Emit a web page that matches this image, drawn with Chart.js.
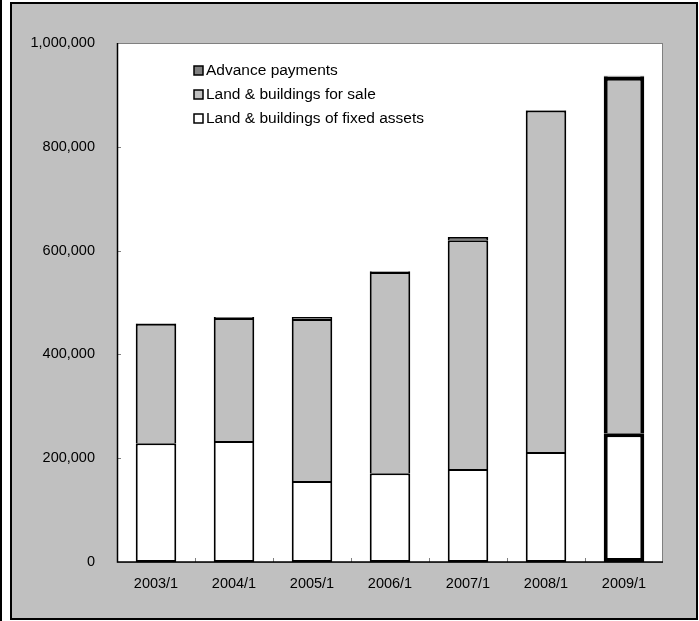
<!DOCTYPE html>
<html>
<head>
<meta charset="utf-8">
<title>Real estate</title>
<script src="https://cdn.jsdelivr.net/npm/chart.js@4"></script>
<style>
  body { margin: 0; background: #ffffff; }
  #wrap { width: 699px; height: 621px; position: relative; }
</style>
</head>
<body>
<div id="wrap"><canvas id="myChart" width="699" height="621"></canvas></div>
<script>
'use strict';

// data
let years = ['2003/1', '2004/1', '2005/1', '2006/1', '2007/1', '2008/1', '2009/1'];
let fixedAssets = [229000, 233000, 156000, 171000, 179000, 212000, 248000];
let forSale = [230000, 237000, 312000, 388000, 441000, 658000, 687000];
let advancePayments = [1000, 2000, 4000, 1000, 6000, 1000, 2000];
let yTicks = [0, 200000, 400000, 600000, 800000, 1000000];

let fontName = '"Liberation Sans", Arial, sans-serif';

// last bar is drawn with a heavy outline
let borderWidths = [2, 2, 2, 2, 2, 2, 4];

// gray frame round the whole chart
let framePlugin = {
  id: 'frame',
  beforeDraw: function (chart) {
    let ctx = chart.ctx;
    ctx.save();
    ctx.fillStyle = '#000000';
    ctx.fillRect(0, 0, 2, 621);
    ctx.fillStyle = '#c0c0c0';
    ctx.fillRect(11, 3, 686, 616);
    ctx.strokeStyle = '#000000';
    ctx.lineWidth = 2;
    ctx.strokeRect(11, 3, 686, 616);
    ctx.restore();
  },
  beforeDatasetsDraw: function (chart) {
    let ctx = chart.ctx;
    let a = chart.chartArea;
    ctx.save();
    ctx.fillStyle = '#ffffff';
    ctx.fillRect(a.left, a.top, a.right - a.left, a.bottom - a.top);
    ctx.strokeStyle = '#808080';
    ctx.lineWidth = 1;
    ctx.strokeRect(a.left + 0.5, a.top + 0.5, a.right - a.left - 1, a.bottom - a.top);
    // small inward tick marks
    let y = chart.scales.y;
    for (let i = 0; i < yTicks.length; i++) {
      let py = Math.round(y.getPixelForValue(yTicks[i])) + 0.5;
      ctx.beginPath();
      ctx.moveTo(a.left, py);
      ctx.lineTo(a.left + 4, py);
      ctx.stroke();
    }
    let x = chart.scales.x;
    let step = (a.right - a.left) / years.length;
    for (let i = 1; i < years.length; i++) {
      let px = Math.round(x.getPixelForValue(i) - step / 2) + 0.5;
      ctx.beginPath();
      ctx.moveTo(px, a.bottom);
      ctx.lineTo(px, a.bottom - 4);
      ctx.stroke();
    }
    // black axis lines
    ctx.strokeStyle = '#000000';
    ctx.lineWidth = 1.5;
    ctx.beginPath();
    ctx.moveTo(a.left + 0.5, a.top);
    ctx.lineTo(a.left + 0.5, a.bottom);
    ctx.lineTo(a.right, a.bottom);
    ctx.stroke();
    ctx.restore();
  },
  afterDraw: function (chart) {
    // legend inside the plot, top dataset listed first
    let ctx = chart.ctx;
    let sets = chart.data.datasets;
    ctx.save();
    ctx.font = '15.5px ' + fontName;
    ctx.textBaseline = 'middle';
    let rowY = 71;
    for (let i = sets.length - 1; i >= 0; i--) {
      ctx.fillStyle = sets[i].backgroundColor;
      ctx.fillRect(194, rowY - 5, 9, 9);
      ctx.strokeStyle = '#000000';
      ctx.lineWidth = 1.5;
      ctx.strokeRect(194, rowY - 5, 9, 9);
      ctx.fillStyle = '#000000';
      ctx.fillText(sets[i].label, 206, rowY);
      rowY += 24;
    }
    ctx.restore();
  }
};

let chartConfig = {
  type: 'bar',
  data: {
    labels: years,
    datasets: [{
      label: 'Land & buildings of fixed assets',
      data: fixedAssets,
      backgroundColor: '#ffffff',
      borderColor: '#000000',
      borderWidth: borderWidths,
      borderSkipped: false
    },
    {
      label: 'Land & buildings for sale',
      data: forSale,
      backgroundColor: '#c0c0c0',
      borderColor: '#000000',
      borderWidth: borderWidths,
      borderSkipped: 'start'
    },
    {
      label: 'Advance payments',
      data: advancePayments,
      backgroundColor: '#808080',
      borderColor: '#000000',
      borderWidth: borderWidths,
      borderSkipped: 'start'
    }]
  },
  options: {
    responsive: false,
    animation: false,
    layout: {
      padding: { left: 0, top: 43, right: 36, bottom: 0 }
    },
    datasets: {
      bar: { categoryPercentage: 1, barPercentage: 0.52 }
    },
    plugins: {
      legend: { display: false },
      tooltip: { enabled: false }
    },
    scales: {
      x: {
        stacked: true,
        grid: { display: false, drawTicks: false },
        border: { display: false },
        ticks: { color: '#000000', padding: 13, font: { family: fontName, size: 14.5 } },
        afterFit: function (s) { s.height = 59; }
      },
      y: {
        stacked: true,
        min: 0,
        max: 1000000,
        afterBuildTicks: function (s) {
          s.ticks = yTicks.map(function (v) { return { value: v }; });
        },
        grid: { display: false, drawTicks: false },
        border: { display: false },
        ticks: {
          color: '#000000',
          padding: 22,
          font: { family: fontName, size: 14.5 },
          callback: function (v) { return v.toLocaleString('en-US'); }
        },
        afterFit: function (s) { s.width = 117; }
      }
    }
  },
  plugins: [framePlugin]
};

let canvasChart = document.getElementById('myChart').getContext('2d');
const myChart = new Chart(canvasChart, chartConfig);
</script>
</body>
</html>
